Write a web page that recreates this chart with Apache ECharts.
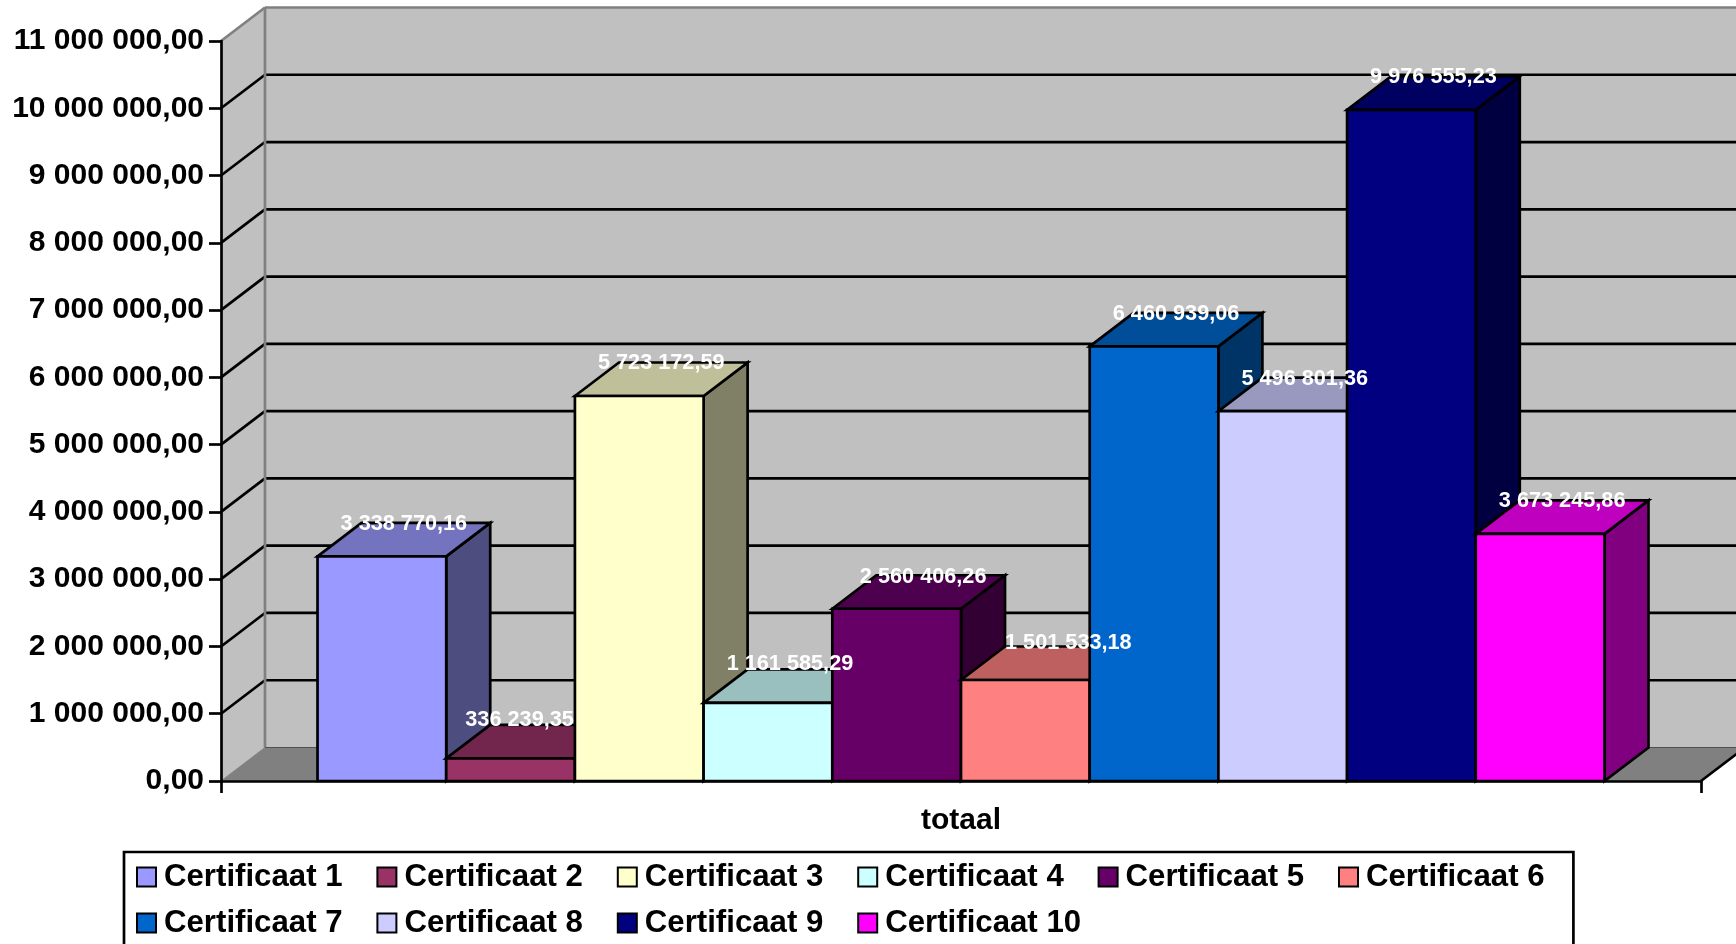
<!DOCTYPE html>
<html>
<head>
    <meta charset="UTF-8">
    <title>Certificaten totaal</title>
    <script type="text/javascript" src="https://cdn.jsdelivr.net/npm/echarts@6/dist/echarts.min.js"></script>
    <style>
        html, body { margin: 0; padding: 0; background: #fff; overflow: hidden; }
    </style>
</head>
<body>
<div id="main" style="width: 1736px; height: 944px;"></div>
<script type="text/javascript">
    // data
    var categories = ['totaal'];
    var names = ['Certificaat 1', 'Certificaat 2', 'Certificaat 3', 'Certificaat 4', 'Certificaat 5',
        'Certificaat 6', 'Certificaat 7', 'Certificaat 8', 'Certificaat 9', 'Certificaat 10'];
    var values = [3338770.16, 336239.35, 5723172.59, 1161585.29, 2560406.26,
        1501533.18, 6460939.06, 5496801.36, 9976555.23, 3673245.86];
    var colors = ['#9999FF', '#993366', '#FFFFCC', '#CCFFFF', '#660066',
        '#FF8080', '#0066CC', '#CCCCFF', '#000080', '#FF00FF'];
    var yTicks = [0, 1000000, 2000000, 3000000, 4000000, 5000000, 6000000, 7000000, 8000000, 9000000, 10000000, 11000000];

    // 3d look
    var DX = 44, DY = 33.5;
    var LINE = 2.7;
    var FONT = 'Liberation Sans';
    // a few labels were moved by excel to keep them apart
    var labelNudge = { 1: [-13, -6], 3: [0, -6.5], 4: [4.5, 1], 5: [21, -4] };

    function fmt(v, dec) {
        var s = v.toFixed(dec).split('.');
        return s[0].replace(/\B(?=(\d{3})+$)/g, ' ') + ',' + s[1];
    }

    function shade(hex, k) {
        var n = parseInt(hex.slice(1), 16);
        var r = Math.round((n >> 16) * k), g = Math.round(((n >> 8) & 255) * k), b = Math.round((n & 255) * k);
        return 'rgb(' + r + ',' + g + ',' + b + ')';
    }

    function poly(points, fill, stroke, width, z2) {
        return {
            type: 'polygon', z2: z2,
            shape: { points: points },
            style: { fill: fill, stroke: stroke, lineWidth: width, lineJoin: 'miter' }
        };
    }

    function line(x1, y1, x2, y2, stroke, width, z2) {
        return {
            type: 'line', z2: z2,
            shape: { x1: x1, y1: y1, x2: x2, y2: y2 },
            style: { stroke: stroke, lineWidth: width }
        };
    }

    function renderWalls(params, api) {
        var g = params.coordSys;
        var l = g.x, r = g.x + g.width, t = g.y, b = g.y + g.height;
        var kids = [
            poly([[l, t], [l + DX, t - DY], [l + DX, b - DY], [l, b]], '#C0C0C0', null, 0, 1),
            poly([[l + DX, t - DY], [r + DX, t - DY], [r + DX, b - DY], [l + DX, b - DY]], '#C0C0C0', null, 0, 1),
            poly([[l, b], [l + DX, b - DY], [r + DX, b - DY], [r, b]], '#808080', null, 0, 1)
        ];
        yTicks.forEach(function (v) {
            var y = api.coord([0, v])[1];
            if (v === 0 || v === 11000000) return;
            kids.push(line(l, y, l + DX, y - DY, '#000', LINE, 2));
            kids.push(line(l + DX, y - DY, r + DX, y - DY, '#000', LINE, 2));
        });
        kids.push(line(l, t, l + DX, t - DY, '#808080', LINE, 3));
        kids.push(line(l + DX, t - DY, r + DX, t - DY, '#808080', LINE, 3));
        kids.push(line(l + DX, t - DY, l + DX, b - DY, '#808080', LINE, 3));
        kids.push(line(l, b, l + DX, b - DY, '#808080', 1, 3));
        kids.push(line(l + DX, b - DY, r + DX, b - DY, '#505050', 1, 3));
        kids.push(line(r, b, r + DX, b - DY, '#000', LINE, 3));
        return { type: 'group', children: kids };
    }

    function renderBar(i) {
        return function (params, api) {
            var top = api.coord([0, api.value(1)]);
            var zero = api.coord([0, 0]);
            var w = api.size([1, 0])[0] / 11.5;
            var x0 = top[0] + (i - 5) * w, x1 = x0 + w;
            var yt = top[1], yb = zero[1];
            var c = colors[i];
            var z2 = 10 + i;
            var nudge = labelNudge[i] || [0, 0];
            return {
                type: 'group',
                children: [
                    poly([[x1, yt], [x1 + DX, yt - DY], [x1 + DX, yb - DY], [x1, yb]], shade(c, 0.5), '#000', LINE, z2),
                    poly([[x0, yt], [x0 + DX, yt - DY], [x1 + DX, yt - DY], [x1, yt]], shade(c, 0.75), '#000', LINE, z2),
                    poly([[x0, yt], [x1, yt], [x1, yb], [x0, yb]], c, '#000', LINE, z2),
                    {
                        type: 'text', z2: 100,
                        style: {
                            x: (x0 + x1) / 2 + DX / 2 + nudge[0],
                            y: yt - DY + 1 + nudge[1],
                            text: fmt(api.value(1), 2),
                            fill: '#fff',
                            font: 'bold 21.7px "' + FONT + '"',
                            align: 'center',
                            verticalAlign: 'middle'
                        }
                    }
                ]
            };
        };
    }

    var series = [{
        name: 'walls',
        type: 'custom',
        z: 1,
        silent: true,
        renderItem: renderWalls,
        encode: { x: 0, y: 1 },
        data: [[0, 0]]
    }];
    names.forEach(function (name, i) {
        series.push({
            name: name,
            type: 'custom',
            z: 2,
            silent: true,
            renderItem: renderBar(i),
            encode: { x: 0, y: 1 },
            itemStyle: { color: colors[i] },
            data: [[0, values[i]]]
        });
    });

    var myChart = echarts.init(document.getElementById('main'));
    var option = {
        animation: false,
        textStyle: { fontFamily: FONT },
        grid: { left: 221, right: 35, top: 41, bottom: 163 },
        xAxis: [{
            type: 'category',
            data: categories,
            z: 5,
            axisLine: { lineStyle: { color: '#000', width: LINE } },
            axisTick: { show: true, length: 12, lineStyle: { color: '#000', width: LINE } },
            axisLabel: { color: '#000', fontWeight: 'bold', fontSize: 30, fontFamily: FONT, margin: 25 },
            splitLine: { show: false }
        }],
        yAxis: [{
            type: 'value',
            min: 0,
            max: 11000000,
            interval: 1000000,
            z: 5,
            axisLine: { show: true, lineStyle: { color: '#000', width: LINE } },
            axisTick: { show: true, length: 12, lineStyle: { color: '#000', width: LINE } },
            axisLabel: {
                color: '#000', fontWeight: 'bold', fontSize: 30, fontFamily: FONT, margin: 17,
                padding: [6, 0, 0, 0],
                formatter: function (v) { return fmt(v, 2); }
            },
            splitLine: { show: false }
        }],
        legend: {
            data: names,
            left: 124,
            top: 852,
            width: 1450,
            orient: 'horizontal',
            icon: 'rect',
            itemWidth: 19,
            itemHeight: 19,
            itemGap: 10,
            padding: [7, 5, 12, 12],
            backgroundColor: '#fff',
            borderColor: '#000',
            borderWidth: LINE,
            borderRadius: 0,
            selectedMode: false,
            itemStyle: { borderColor: '#000', borderWidth: 2 },
            textStyle: {
                color: '#000', fontWeight: 'bold', fontSize: 31.2, fontFamily: FONT,
                width: 202.4, lineHeight: 36, padding: [0, 0, 0, 3]
            }
        },
        series: series
    };
    myChart.setOption(option);
</script>
</body>
</html>
